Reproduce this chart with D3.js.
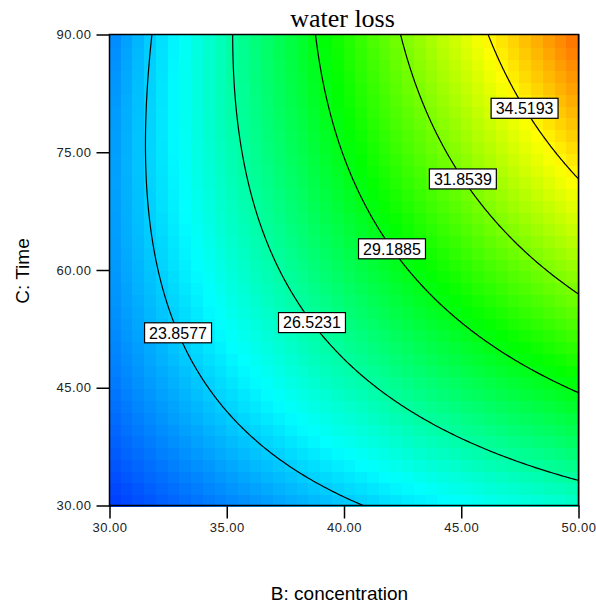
<!DOCTYPE html>
<html>
<head>
<meta charset="utf-8">
<script src="https://cdn.jsdelivr.net/npm/d3@7"></script>
<style>
  html, body { margin: 0; padding: 0; background: #fff; }
  svg { display: block; }
</style>
</head>
<body>
<svg id="chart" width="596" height="607"></svg>
<script>
// Axis ranges and tick values
const concentrationTicks = [30, 35, 40, 45, 50];
const timeTicks = [30, 45, 60, 75, 90];

// Quadratic response model for water loss in coded units
// (b = (B - 40) / 10, c = (C - 60) / 30)
const modelTerms = ["Intercept", "B", "C", "BC", "B^2", "C^2"];
const modelCoefficients = [27.88, 4.85, 3.21, 2.53, -0.28, -1.00];

// Contour levels and the time at which each level is labelled
const contourLevels = [23.8577, 26.5231, 29.1885, 31.8539, 34.5193];
const labelTimes = [52.0, 53.3, 62.7, 71.6, 80.6];

// Colour range of the response (blue -> cyan -> green -> yellow -> red)
const colorRange = [20.0, 39.2];
const colorNames = ["#0000ff", "#00ffff", "#00ff00", "#ffff00", "#ff0000"];

const SANS = "Arial, 'Liberation Sans', sans-serif";
const SERIF = "'Times New Roman', 'Liberation Serif', serif";

const [k0, kB, kC, kBC, kBB, kCC] = modelCoefficients;
const codeB = B => (B - 40) / 10;
const codeC = C => (C - 60) / 30;
function waterLoss(B, C) {
  const b = codeB(B), c = codeC(C);
  return k0 + kB * b + kC * c + kBC * b * c + kBB * b * b + kCC * c * c;
}

const svg = d3.select("#chart");
const plot = { left: 109.5, right: 578.5, top: 34.5, bottom: 505.5 };

const x = d3.scaleLinear().domain([30, 50]).range([plot.left, plot.right]);
const y = d3.scaleLinear().domain([30, 90]).range([plot.bottom, plot.top]);

const color = d3.scaleLinear()
  .domain(d3.range(colorNames.length).map(i => colorRange[0] + i * (colorRange[1] - colorRange[0]) / (colorNames.length - 1)))
  .range(colorNames)
  .interpolate(d3.interpolateRgb)
  .clamp(true);

svg.append("defs").append("clipPath").attr("id", "plotClip")
  .append("rect")
  .attr("x", plot.left).attr("y", plot.top)
  .attr("width", plot.right - plot.left).attr("height", plot.bottom - plot.top);

// Shaded cells of the response surface
const nCells = 40;
const dB = 20 / nCells, dC = 60 / nCells;
const cells = [];
for (let j = 0; j < nCells; j++) {
  for (let i = 0; i < nCells; i++) {
    const B0 = 30 + i * dB, C0 = 30 + j * dC;
    cells.push({ B0, C0, v: waterLoss(B0 + dB / 2, C0 + dC / 2) });
  }
}
svg.append("g").attr("shape-rendering", "crispEdges")
  .selectAll("rect").data(cells).join("rect")
  .attr("x", d => Math.floor(x(d.B0)))
  .attr("y", d => Math.floor(y(d.C0 + dC)))
  .attr("width", d => Math.ceil(x(d.B0 + dB)) - Math.floor(x(d.B0)) + 1)
  .attr("height", d => Math.ceil(y(d.C0)) - Math.floor(y(d.C0 + dC)) + 1)
  .attr("fill", d => color(d.v));

// Contour lines, computed on a grid slightly wider than the plot and clipped
const nx = 221, ny = 221;
const gB0 = 29, gB1 = 51, gC0 = 27, gC1 = 93;
const values = new Array(nx * ny);
for (let j = 0; j < ny; j++) {
  for (let i = 0; i < nx; i++) {
    const B = gB0 + (gB1 - gB0) * i / (nx - 1);
    const C = gC0 + (gC1 - gC0) * j / (ny - 1);
    values[j * nx + i] = waterLoss(B, C);
  }
}
const contours = d3.contours().size([nx, ny]).thresholds(contourLevels)(values);
const toScreen = d3.geoTransform({
  point(px, py) {
    const B = gB0 + (gB1 - gB0) * (px - 0.5) / (nx - 1);
    const C = gC0 + (gC1 - gC0) * (py - 0.5) / (ny - 1);
    this.stream.point(x(B), y(C));
  }
});
const path = d3.geoPath(toScreen);
svg.append("g").attr("clip-path", "url(#plotClip)")
  .selectAll("path").data(contours).join("path")
  .attr("d", path)
  .attr("fill", "none")
  .attr("stroke", "#000")
  .attr("stroke-width", 1.2);

// Frame
svg.append("rect")
  .attr("x", plot.left).attr("y", plot.top)
  .attr("width", plot.right - plot.left).attr("height", plot.bottom - plot.top)
  .attr("fill", "none").attr("stroke", "#000").attr("stroke-width", 1.5);

// Axes
const xAxis = d3.axisBottom(x).tickValues(concentrationTicks)
  .tickFormat(d3.format(".2f")).tickSizeInner(13).tickSizeOuter(0).tickPadding(4);
const yAxis = d3.axisLeft(y).tickValues(timeTicks)
  .tickFormat(d3.format(".2f")).tickSizeInner(13).tickSizeOuter(0).tickPadding(5);

const gx = svg.append("g").attr("transform", `translate(0,${plot.bottom})`).call(xAxis);
const gy = svg.append("g").attr("transform", `translate(${plot.left},0)`).call(yAxis);
[gx, gy].forEach(g => {
  g.select(".domain").remove();
  g.selectAll(".tick line").attr("stroke", "#000").attr("stroke-width", 1.5);
  g.selectAll(".tick text")
    .style("font-family", SANS)
    .attr("font-size", 13)
    .attr("letter-spacing", "0.5px")
    .attr("fill", "#222");
});

// Contour labels: placed where each contour crosses its label time
function concentrationOnContour(level, C) {
  const c = codeC(C);
  const a = kBB, bq = kB + kBC * c, cq = k0 + kC * c + kCC * c * c - level;
  const disc = Math.sqrt(bq * bq - 4 * a * cq);
  const roots = [(-bq + disc) / (2 * a), (-bq - disc) / (2 * a)];
  const b = roots.find(r => r >= -1.05 && r <= 1.05);
  return 40 + 10 * b;
}
const labelG = svg.append("g");
contourLevels.forEach((level, i) => {
  const C = labelTimes[i];
  const B = concentrationOnContour(level, C);
  const cx = x(B), cy = y(C);
  const g = labelG.append("g").attr("transform", `translate(${cx},${cy})`);
  const rect = g.append("rect");
  const t = g.append("text")
    .attr("text-anchor", "middle")
    .attr("dy", "0.36em")
    .style("font-family", SANS)
    .attr("font-size", 16)
    .attr("fill", "#000")
    .text(level.toFixed(4));
  const bb = t.node().getBBox();
  const w = bb.width + 9, h = 20;
  rect.attr("x", -w / 2).attr("y", -h / 2).attr("width", w).attr("height", h)
    .attr("fill", "#fff").attr("stroke", "#000").attr("stroke-width", 1.2);
});

// Titles
svg.append("text")
  .attr("x", 342.5).attr("y", 27)
  .attr("text-anchor", "middle")
  .style("font-family", SERIF)
  .attr("font-size", 26)
  .text("water loss");

svg.append("text")
  .attr("x", 339.5).attr("y", 600)
  .attr("text-anchor", "middle")
  .style("font-family", SANS)
  .attr("font-size", 19)
  .text("B: concentration");

svg.append("text")
  .attr("transform", "translate(29,271) rotate(-90)")
  .attr("text-anchor", "middle")
  .style("font-family", SANS)
  .attr("font-size", 19)
  .text("C: Time");
</script>
</body>
</html>
